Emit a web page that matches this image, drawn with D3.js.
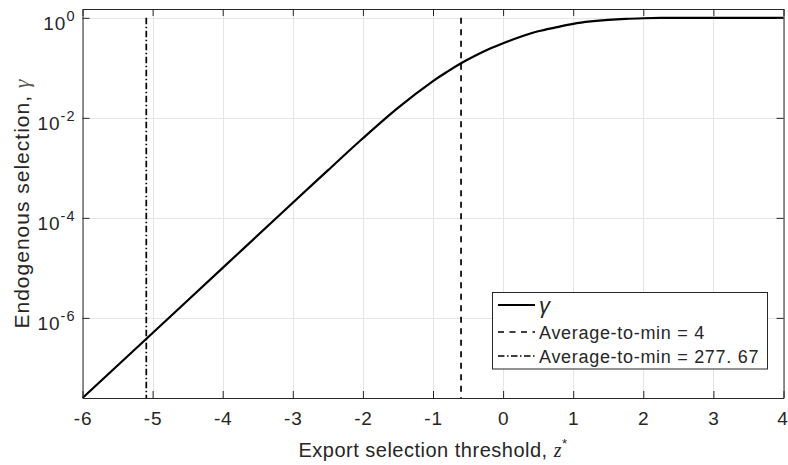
<!DOCTYPE html>
<html>
<head>
<meta charset="utf-8">
<script src="https://cdn.jsdelivr.net/npm/d3@7/dist/d3.min.js"></script>
<style>
  html, body { margin: 0; padding: 0; background: #fff; }
  svg { display: block; }
  text { font-family: "Liberation Sans", Arial, Helvetica, sans-serif; fill: #262626; }
</style>
</head>
<body>
<svg id="chart" width="788" height="465"></svg>
<script>
// Export selection threshold z* and the resulting endogenous selection gamma
const zValues = [-6, -5, -4, -3, -2.5, -2, -1.5, -1, -0.8, -0.6, -0.4, -0.2, 0,
  0.25, 0.5, 0.75, 1, 1.25, 1.5, 1.75, 2, 2.25, 2.5, 3, 3.5, 4];
const gammaValues = [2.5e-8, 5.0e-7, 1.0e-5, 2.0e-4, 8.9e-4, 3.9e-3, 1.58e-2, 5.4e-2,
  8.3e-2, 0.123, 0.174, 0.237, 0.309, 0.417, 0.537, 0.643, 0.759, 0.847, 0.912,
  0.955, 0.979, 0.993, 0.997, 0.9995, 1.0, 1.0];

// Thresholds implied by the two average-to-min ratios
const thresholdValues = [-0.6, -5.09];
const legendLabels = ["Average-to-min = 4", "Average-to-min = 277. 67"];

const xTicks = [-6, -5, -4, -3, -2, -1, 0, 1, 2, 3, 4];
const yTickExponents = [-6, -4, -2, 0];
const yLimits = [gammaValues[0], 1.5];

const svg = d3.select("#chart");
const plotLeft = 82.5, plotRight = 783.5, plotTop = 9, plotBottom = 398;

const x = d3.scaleLinear().domain([-6, 4]).range([plotLeft, plotRight]);
const y = d3.scaleLog().domain(yLimits).range([plotBottom, plotTop]);
const yTicks = yTickExponents.map(e => Math.pow(10, e));

const axisColor = "#262626";
const gridColor = "#e5e5e5";

// Grid
const grid = svg.append("g");
grid.selectAll(".gx").data(xTicks).join("line")
  .attr("x1", d => Math.round(x(d)) + 0.5).attr("x2", d => Math.round(x(d)) + 0.5)
  .attr("y1", plotTop).attr("y2", plotBottom)
  .attr("stroke", gridColor).attr("stroke-width", 1);
grid.selectAll(".gy").data(yTicks).join("line")
  .attr("x1", plotLeft).attr("x2", plotRight)
  .attr("y1", d => Math.round(y(d)) + 0.5).attr("y2", d => Math.round(y(d)) + 0.5)
  .attr("stroke", gridColor).attr("stroke-width", 1);

// Curve
const line = d3.line()
  .x((d, i) => x(zValues[i]))
  .y(d => y(d))
  .curve(d3.curveCatmullRom.alpha(0.5));
svg.append("path")
  .attr("d", line(gammaValues))
  .attr("fill", "none").attr("stroke", "#000").attr("stroke-width", 2.2)
  .attr("stroke-linejoin", "round");

// Vertical threshold lines
const dashStyles = ["6,5.5", "6.5,2.5,1.5,2.5"];
thresholdValues.forEach((z, i) => {
  svg.append("line")
    .attr("x1", x(z)).attr("x2", x(z))
    .attr("y1", y(1)).attr("y2", y(yLimits[0]))
    .attr("stroke", "#000").attr("stroke-width", 1.7)
    .attr("stroke-dasharray", dashStyles[i]);
});

// Axes with inward ticks on all four sides
const tickLen = 7;
const axB = svg.append("g").attr("transform", `translate(0,${plotBottom})`)
  .call(d3.axisBottom(x).tickValues(xTicks).tickSizeInner(-tickLen).tickSizeOuter(0).tickPadding(14)
    .tickFormat(d => String(d)));
const axT = svg.append("g").attr("transform", `translate(0,${plotTop})`)
  .call(d3.axisTop(x).tickValues(xTicks).tickSizeInner(-tickLen).tickSizeOuter(0).tickFormat(""));
const axL = svg.append("g").attr("transform", `translate(${plotLeft},0)`)
  .call(d3.axisLeft(y).tickValues(yTicks).tickSizeInner(-tickLen).tickSizeOuter(0).tickFormat(""));
const axR = svg.append("g").attr("transform", `translate(${plotRight},0)`)
  .call(d3.axisRight(y).tickValues(yTicks).tickSizeInner(-tickLen).tickSizeOuter(0).tickFormat(""));

[axB, axT, axL, axR].forEach(g => {
  g.select(".domain").attr("stroke", axisColor).attr("stroke-width", 1);
  g.selectAll(".tick line").attr("stroke", axisColor).attr("stroke-width", 1);
});
axB.selectAll(".tick text")
  .attr("font-size", 19).attr("letter-spacing", 0.8)
  .attr("fill", axisColor).attr("font-family", "Liberation Sans, Arial, sans-serif");
// keep the last label inside the canvas
axB.selectAll(".tick text").filter(d => d === 4).attr("dx", -1);

// Power-of-ten labels on the left axis
axL.selectAll(".tick").each(function(d, i) {
  const t = d3.select(this).append("text")
    .attr("x", -7).attr("y", 12)
    .attr("text-anchor", "end")
    .attr("fill", axisColor)
    .attr("font-size", 19).attr("letter-spacing", 1);
  t.append("tspan").text("10");
  t.append("tspan").attr("dy", -9).attr("font-size", 14.5).text(yTickExponents[i]);
});

// Axis labels
const xl = svg.append("text")
  .attr("x", (plotLeft + plotRight) / 2).attr("y", 457)
  .attr("text-anchor", "middle").attr("font-size", 20).attr("letter-spacing", 0.5);
xl.append("tspan").text("Export selection threshold, ");
xl.append("tspan").attr("font-family", "Liberation Serif, serif").attr("font-style", "italic").text("z");
xl.append("tspan").attr("dy", -9).attr("font-size", 13).text("*");

const yl = svg.append("text")
  .attr("transform", `translate(28.5,${(plotTop + plotBottom) / 2}) rotate(-90)`)
  .attr("text-anchor", "middle").attr("font-size", 21).attr("letter-spacing", 1.0);
yl.append("tspan").text("Endogenous selection, ");
yl.append("tspan").attr("font-family", "Liberation Serif, serif").attr("font-style", "italic")
  .attr("fill", "#555").attr("font-size", 22).text("γ");

// Legend
const lg = svg.append("g");
lg.append("rect")
  .attr("x", 492.5).attr("y", 292.5).attr("width", 275).attr("height", 76.5)
  .attr("fill", "#fff").attr("stroke", axisColor).attr("stroke-width", 1);
const rows = [
  { label: "γ", dash: null, yPos: 305, serif: true },
  { label: legendLabels[0], dash: dashStyles[0], yPos: 332, serif: false },
  { label: legendLabels[1], dash: dashStyles[1], yPos: 356, serif: false }
];
rows.forEach(r => {
  lg.append("line")
    .attr("x1", 498).attr("x2", 535).attr("y1", r.yPos).attr("y2", r.yPos)
    .attr("stroke", "#000").attr("stroke-width", r.dash ? 1.7 : 2.2)
    .attr("stroke-dasharray", r.dash);
  const t = lg.append("text").attr("x", 539).attr("y", r.yPos + 7)
    .attr("font-size", 18).attr("letter-spacing", r.serif ? 0 : 0.7).text(r.label);
  if (r.serif) {
    t.attr("font-family", "Liberation Serif, serif").attr("font-style", "italic")
      .attr("font-size", 22).attr("fill", "#555").attr("y", r.yPos + 8);
  }
});
</script>
</body>
</html>
